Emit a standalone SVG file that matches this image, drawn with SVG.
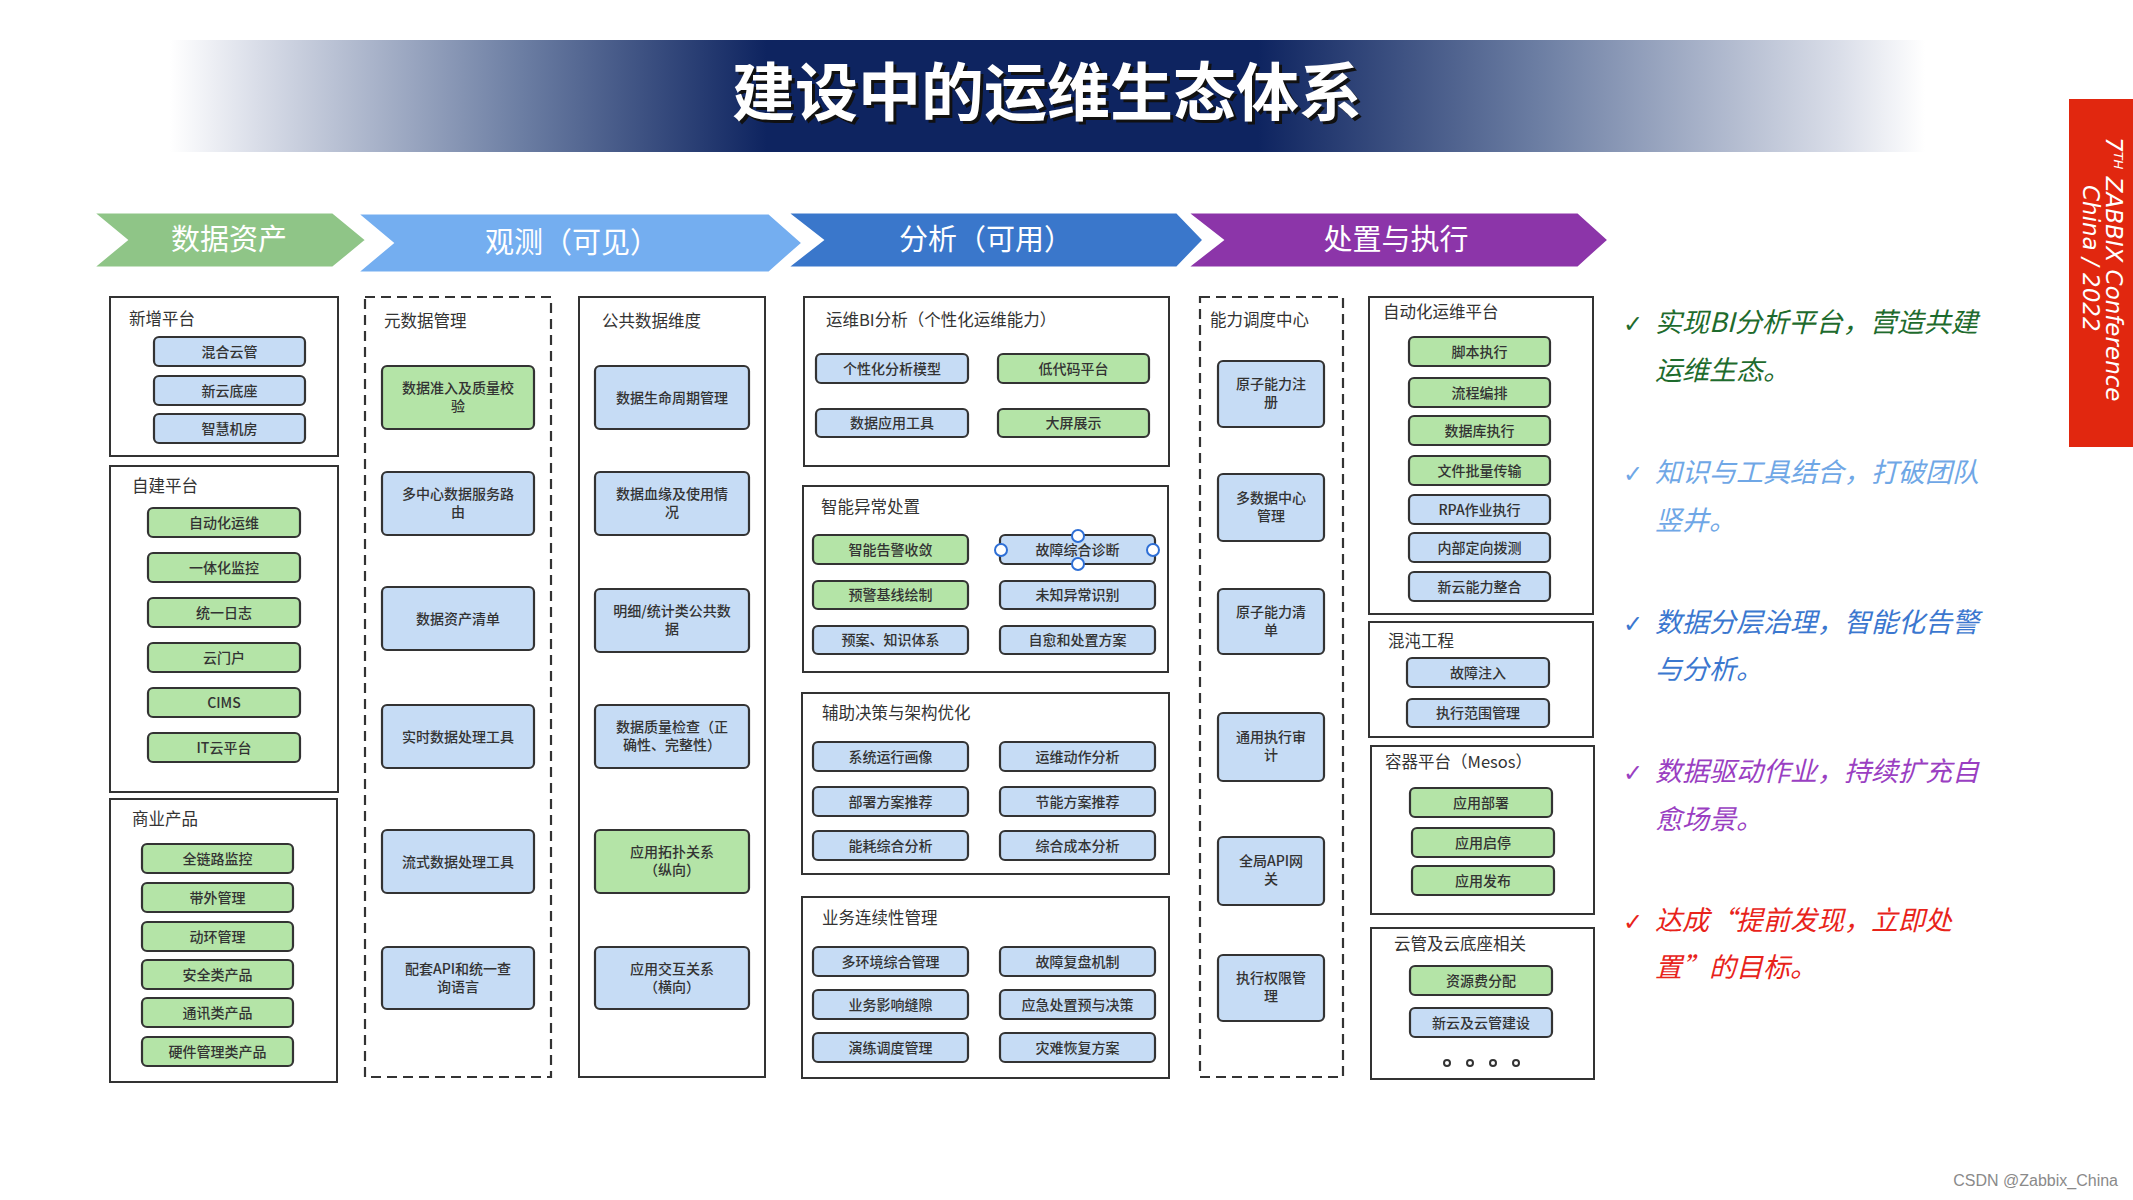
<svg xmlns="http://www.w3.org/2000/svg" width="2133" height="1200" viewBox="0 0 2133 1200">
<defs>
<linearGradient id="ban" x1="170" y1="0" x2="1925" y2="0" gradientUnits="userSpaceOnUse">
<stop offset="0" stop-color="#ffffff"/>
<stop offset="0.05" stop-color="#d9dde8"/>
<stop offset="0.2" stop-color="#6c7ea3"/>
<stop offset="0.34" stop-color="#0e2460"/>
<stop offset="0.62" stop-color="#0e2460"/>
<stop offset="0.78" stop-color="#6c7ea3"/>
<stop offset="0.95" stop-color="#d9dde8"/>
<stop offset="1" stop-color="#ffffff"/>
</linearGradient>
<style>
.frame{fill:none;stroke:#333;stroke-width:2}
.dash{fill:none;stroke:#333;stroke-width:2.2;stroke-dasharray:10 6}
.bb{fill:#c6dcf5;stroke:#333;stroke-width:2.2}
.gb{fill:#b4e4a7;stroke:#333;stroke-width:2.2}
.t{font-family:"Noto Sans CJK SC","Liberation Sans",sans-serif;font-size:14px;fill:#333;text-anchor:middle;font-weight:500}
.h{font-family:"Noto Sans CJK SC","Liberation Sans",sans-serif;font-size:16.5px;fill:#333}
.ar{stroke:#fff;stroke-width:3}
.at{font-family:"Noto Sans CJK SC",sans-serif;font-size:29px;fill:#fff;text-anchor:middle}
.rt{font-family:"Noto Sans CJK SC",sans-serif;font-size:27px;font-style:italic}
.ck{font-family:"DejaVu Sans",sans-serif;font-size:24px}
.hd{fill:#fff;stroke:#2e6fd6;stroke-width:2}
.tb{font-family:"DejaVu Sans",sans-serif;font-style:italic;font-size:23px;fill:#fff}
</style>
</defs>
<rect width="2133" height="1200" fill="#fff"/>

<!-- title banner -->
<g id="title">
<rect x="170" y="40" width="1755" height="112" fill="url(#ban)"/>
<text x="1050" y="118" font-family="Noto Sans CJK SC,sans-serif" font-size="63" font-weight="bold" fill="#111" text-anchor="middle">建设中的运维生态体系</text>
<text x="1047" y="115" font-family="Noto Sans CJK SC,sans-serif" font-size="63" font-weight="bold" fill="#fff" text-anchor="middle">建设中的运维生态体系</text>
</g>

<!-- phase arrows -->
<g id="phase-data">
<polygon class="ar" fill="#8fc587" points="92,212 333,212 367,240 333,268 92,268 126,240"/>
<text class="at" x="229" y="250">数据资产</text>
</g>
<g id="phase-observe">
<polygon class="ar" fill="#74aef0" points="356,213 769,213 803,243 769,273 356,273 392,243"/>
<text class="at" x="572" y="253">观测（可见）</text>
</g>
<g id="phase-analyse">
<polygon class="ar" fill="#3a77cb" points="786,212 1177,212 1204,240 1177,268 786,268 822,240"/>
<text class="at" x="986" y="250">分析（可用）</text>
</g>
<g id="phase-act">
<polygon class="ar" fill="#8c35a9" points="1186,212 1578,212 1609,240 1578,268 1186,268 1222,240"/>
<text class="at" x="1396" y="250">处置与执行</text>
</g>

<!-- column 1 -->
<g id="new-platform">
<rect class="frame" x="110" y="297" width="228" height="159"/>
<text class="h" x="129" y="325">新增平台</text>
<rect class="bb" x="154" y="337" width="151" height="29" rx="5"/><text class="t" x="229.5" y="356.5">混合云管</text>
<rect class="bb" x="154" y="376" width="151" height="29" rx="5"/><text class="t" x="229.5" y="395.5">新云底座</text>
<rect class="bb" x="154" y="414" width="151" height="29" rx="5"/><text class="t" x="229.5" y="433.5">智慧机房</text>
</g>
<g id="self-built">
<rect class="frame" x="110" y="466" width="228" height="326"/>
<text class="h" x="132" y="492">自建平台</text>
<rect class="gb" x="148" y="508" width="152" height="29" rx="5"/><text class="t" x="224" y="527.5">自动化运维</text>
<rect class="gb" x="148" y="553" width="152" height="29" rx="5"/><text class="t" x="224" y="572.5">一体化监控</text>
<rect class="gb" x="148" y="598" width="152" height="29" rx="5"/><text class="t" x="224" y="617.5">统一日志</text>
<rect class="gb" x="148" y="643" width="152" height="29" rx="5"/><text class="t" x="224" y="662.5">云门户</text>
<rect class="gb" x="148" y="688" width="152" height="29" rx="5"/><text class="t" x="224" y="707.5">CIMS</text>
<rect class="gb" x="148" y="733" width="152" height="29" rx="5"/><text class="t" x="224" y="752.5">IT云平台</text>
</g>
<g id="commercial">
<rect class="frame" x="110" y="799" width="227" height="283"/>
<text class="h" x="132" y="825">商业产品</text>
<rect class="gb" x="142" y="844" width="151" height="29" rx="5"/><text class="t" x="217.5" y="863.5">全链路监控</text>
<rect class="gb" x="142" y="883" width="151" height="29" rx="5"/><text class="t" x="217.5" y="902.5">带外管理</text>
<rect class="gb" x="142" y="922" width="151" height="29" rx="5"/><text class="t" x="217.5" y="941.5">动环管理</text>
<rect class="gb" x="142" y="960" width="151" height="29" rx="5"/><text class="t" x="217.5" y="979.5">安全类产品</text>
<rect class="gb" x="142" y="998" width="151" height="29" rx="5"/><text class="t" x="217.5" y="1017.5">通讯类产品</text>
<rect class="gb" x="142" y="1037" width="151" height="29" rx="5"/><text class="t" x="217.5" y="1056.5">硬件管理类产品</text>
</g>

<!-- column 2 -->
<g id="metadata">
<rect class="dash" x="365" y="297" width="186" height="780"/>
<text class="h" x="384" y="327">元数据管理</text>
<rect class="gb" x="382" y="366" width="152" height="63" rx="5"/><text class="t" x="458" y="393">数据准入及质量校</text><text class="t" x="458" y="411">验</text>
<rect class="bb" x="382" y="472" width="152" height="63" rx="5"/><text class="t" x="458" y="499">多中心数据服务路</text><text class="t" x="458" y="517">由</text>
<rect class="bb" x="382" y="587" width="152" height="63" rx="5"/><text class="t" x="458" y="623.5">数据资产清单</text>
<rect class="bb" x="382" y="705" width="152" height="63" rx="5"/><text class="t" x="458" y="741.5">实时数据处理工具</text>
<rect class="bb" x="382" y="830" width="152" height="63" rx="5"/><text class="t" x="458" y="866.5">流式数据处理工具</text>
<rect class="bb" x="382" y="947" width="152" height="62" rx="5"/><text class="t" x="458" y="974">配套API和统一查</text><text class="t" x="458" y="992">询语言</text>
</g>

<!-- column 3 -->
<g id="public-data">
<rect class="frame" x="579" y="297" width="186" height="780"/>
<text class="h" x="602" y="327">公共数据维度</text>
<rect class="bb" x="595" y="366" width="154" height="63" rx="5"/><text class="t" x="672" y="402.5">数据生命周期管理</text>
<rect class="bb" x="595" y="472" width="154" height="63" rx="5"/><text class="t" x="672" y="499">数据血缘及使用情</text><text class="t" x="672" y="517">况</text>
<rect class="bb" x="595" y="589" width="154" height="63" rx="5"/><text class="t" x="672" y="616">明细/统计类公共数</text><text class="t" x="672" y="634">据</text>
<rect class="bb" x="595" y="705" width="154" height="63" rx="5"/><text class="t" x="672" y="732">数据质量检查（正</text><text class="t" x="672" y="750">确性、完整性）</text>
<rect class="gb" x="595" y="830" width="154" height="63" rx="5"/><text class="t" x="672" y="857">应用拓扑关系</text><text class="t" x="672" y="875">（纵向）</text>
<rect class="bb" x="595" y="947" width="154" height="62" rx="5"/><text class="t" x="672" y="974">应用交互关系</text><text class="t" x="672" y="992">（横向）</text>
</g>

<!-- column 4 -->
<g id="bi-analysis">
<rect class="frame" x="804" y="297" width="365" height="169"/>
<text class="h" x="826" y="326">运维BI分析（个性化运维能力）</text>
<rect class="bb" x="816" y="354" width="152" height="29" rx="5"/><text class="t" x="892" y="373.5">个性化分析模型</text>
<rect class="gb" x="998" y="354" width="151" height="29" rx="5"/><text class="t" x="1073.5" y="373.5">低代码平台</text>
<rect class="bb" x="816" y="409" width="152" height="28" rx="5"/><text class="t" x="892" y="428">数据应用工具</text>
<rect class="gb" x="998" y="409" width="151" height="28" rx="5"/><text class="t" x="1073.5" y="428">大屏展示</text>
</g>
<g id="smart-anomaly">
<rect class="frame" x="803" y="486" width="365" height="186"/>
<text class="h" x="821" y="513">智能异常处置</text>
<rect class="gb" x="813" y="535" width="155" height="29" rx="5"/><text class="t" x="890.5" y="554.5">智能告警收敛</text>
<rect class="bb" x="1000" y="535" width="155" height="29" rx="5"/><text class="t" x="1077.5" y="554.5">故障综合诊断</text>
<circle class="hd" cx="1078" cy="536" r="6"/><circle class="hd" cx="1078" cy="564" r="6"/><circle class="hd" cx="1001" cy="550" r="6"/><circle class="hd" cx="1153" cy="550" r="6"/>
<rect class="gb" x="813" y="581" width="155" height="28" rx="5"/><text class="t" x="890.5" y="600">预警基线绘制</text>
<rect class="bb" x="1000" y="581" width="155" height="28" rx="5"/><text class="t" x="1077.5" y="600">未知异常识别</text>
<rect class="bb" x="813" y="626" width="155" height="28" rx="5"/><text class="t" x="890.5" y="645">预案、知识体系</text>
<rect class="bb" x="1000" y="626" width="155" height="28" rx="5"/><text class="t" x="1077.5" y="645">自愈和处置方案</text>
</g>
<g id="decision">
<rect class="frame" x="802" y="693" width="367" height="181"/>
<text class="h" x="822" y="719">辅助决策与架构优化</text>
<rect class="bb" x="813" y="742" width="155" height="29" rx="5"/><text class="t" x="890.5" y="761.5">系统运行画像</text>
<rect class="bb" x="1000" y="742" width="155" height="29" rx="5"/><text class="t" x="1077.5" y="761.5">运维动作分析</text>
<rect class="bb" x="813" y="787" width="155" height="29" rx="5"/><text class="t" x="890.5" y="806.5">部署方案推荐</text>
<rect class="bb" x="1000" y="787" width="155" height="29" rx="5"/><text class="t" x="1077.5" y="806.5">节能方案推荐</text>
<rect class="bb" x="813" y="831" width="155" height="29" rx="5"/><text class="t" x="890.5" y="850.5">能耗综合分析</text>
<rect class="bb" x="1000" y="831" width="155" height="29" rx="5"/><text class="t" x="1077.5" y="850.5">综合成本分析</text>
</g>
<g id="continuity">
<rect class="frame" x="802" y="897" width="367" height="181"/>
<text class="h" x="822" y="924">业务连续性管理</text>
<rect class="bb" x="813" y="947" width="155" height="29" rx="5"/><text class="t" x="890.5" y="966.5">多环境综合管理</text>
<rect class="bb" x="1000" y="947" width="155" height="29" rx="5"/><text class="t" x="1077.5" y="966.5">故障复盘机制</text>
<rect class="bb" x="813" y="990" width="155" height="29" rx="5"/><text class="t" x="890.5" y="1009.5">业务影响缝隙</text>
<rect class="bb" x="1000" y="990" width="155" height="29" rx="5"/><text class="t" x="1077.5" y="1009.5">应急处置预与决策</text>
<rect class="bb" x="813" y="1033" width="155" height="29" rx="5"/><text class="t" x="890.5" y="1052.5">演练调度管理</text>
<rect class="bb" x="1000" y="1033" width="155" height="29" rx="5"/><text class="t" x="1077.5" y="1052.5">灾难恢复方案</text>
</g>

<!-- column 5 -->
<g id="dispatch">
<rect class="dash" x="1200" y="297" width="143" height="780"/>
<text class="h" x="1210" y="326">能力调度中心</text>
<rect class="bb" x="1218" y="361" width="106" height="66" rx="5"/><text class="t" x="1271" y="389">原子能力注</text><text class="t" x="1271" y="407">册</text>
<rect class="bb" x="1218" y="474" width="106" height="67" rx="5"/><text class="t" x="1271" y="503">多数据中心</text><text class="t" x="1271" y="521">管理</text>
<rect class="bb" x="1218" y="589" width="106" height="65" rx="5"/><text class="t" x="1271" y="617">原子能力清</text><text class="t" x="1271" y="635">单</text>
<rect class="bb" x="1218" y="713" width="106" height="68" rx="5"/><text class="t" x="1271" y="742">通用执行审</text><text class="t" x="1271" y="760">计</text>
<rect class="bb" x="1218" y="837" width="106" height="68" rx="5"/><text class="t" x="1271" y="866">全局API网</text><text class="t" x="1271" y="884">关</text>
<rect class="bb" x="1218" y="955" width="106" height="66" rx="5"/><text class="t" x="1271" y="983">执行权限管</text><text class="t" x="1271" y="1001">理</text>
</g>

<!-- column 6 -->
<g id="auto-ops">
<rect class="frame" x="1369" y="297" width="224" height="317"/>
<text class="h" x="1383" y="318">自动化运维平台</text>
<rect class="gb" x="1409" y="337" width="141" height="29" rx="5"/><text class="t" x="1479.5" y="356.5">脚本执行</text>
<rect class="gb" x="1409" y="378" width="141" height="29" rx="5"/><text class="t" x="1479.5" y="397.5">流程编排</text>
<rect class="gb" x="1409" y="416" width="141" height="29" rx="5"/><text class="t" x="1479.5" y="435.5">数据库执行</text>
<rect class="gb" x="1409" y="456" width="141" height="29" rx="5"/><text class="t" x="1479.5" y="475.5">文件批量传输</text>
<rect class="bb" x="1409" y="495" width="141" height="29" rx="5"/><text class="t" x="1479.5" y="514.5">RPA作业执行</text>
<rect class="bb" x="1409" y="533" width="141" height="29" rx="5"/><text class="t" x="1479.5" y="552.5">内部定向拨测</text>
<rect class="bb" x="1409" y="572" width="141" height="29" rx="5"/><text class="t" x="1479.5" y="591.5">新云能力整合</text>
</g>
<g id="chaos">
<rect class="frame" x="1369" y="622" width="224" height="115"/>
<text class="h" x="1388" y="647">混沌工程</text>
<rect class="bb" x="1407" y="658" width="142" height="29" rx="5"/><text class="t" x="1478" y="677.5">故障注入</text>
<rect class="bb" x="1407" y="699" width="142" height="28" rx="5"/><text class="t" x="1478" y="718">执行范围管理</text>
</g>
<g id="container">
<rect class="frame" x="1371" y="746" width="223" height="168"/>
<text class="h" x="1385" y="768">容器平台（Mesos）</text>
<rect class="gb" x="1410" y="788" width="142" height="29" rx="5"/><text class="t" x="1481" y="807.5">应用部署</text>
<rect class="gb" x="1412" y="828" width="142" height="29" rx="5"/><text class="t" x="1483" y="847.5">应用启停</text>
<rect class="gb" x="1412" y="866" width="142" height="29" rx="5"/><text class="t" x="1483" y="885.5">应用发布</text>
</g>
<g id="cloud">
<rect class="frame" x="1371" y="928" width="223" height="151"/>
<text class="h" x="1394" y="950">云管及云底座相关</text>
<rect class="gb" x="1410" y="966" width="142" height="29" rx="5"/><text class="t" x="1481" y="985.5">资源费分配</text>
<rect class="bb" x="1410" y="1008" width="142" height="29" rx="5"/><text class="t" x="1481" y="1027.5">新云及云管建设</text>
<g fill="none" stroke="#333" stroke-width="2"><circle cx="1447" cy="1063" r="3"/><circle cx="1470" cy="1063" r="3"/><circle cx="1493" cy="1063" r="3"/><circle cx="1516" cy="1063" r="3"/></g>
</g>

<g id="connectors"></g>

<!-- right side goals -->
<g id="goals">
<text class="ck" x="1623" y="332" fill="#1e6b2d">✓</text>
<text class="rt" x="1655" y="332" fill="#1e6b2d">实现BI分析平台，营造共建</text>
<text class="rt" x="1655" y="380" fill="#1e6b2d">运维生态。</text>
<text class="ck" x="1623" y="482" fill="#6fa7e6">✓</text>
<text class="rt" x="1655" y="482" fill="#6fa7e6">知识与工具结合，打破团队</text>
<text class="rt" x="1655" y="530" fill="#6fa7e6">竖井。</text>
<text class="ck" x="1623" y="632" fill="#3b77cf">✓</text>
<text class="rt" x="1655" y="632" fill="#3b77cf">数据分层治理，智能化告警</text>
<text class="rt" x="1655" y="679" fill="#3b77cf">与分析。</text>
<text class="ck" x="1623" y="781" fill="#9a3fc2">✓</text>
<text class="rt" x="1655" y="781" fill="#9a3fc2">数据驱动作业，持续扩充自</text>
<text class="rt" x="1655" y="829" fill="#9a3fc2">愈场景。</text>
<text class="ck" x="1623" y="930" fill="#e8231a">✓</text>
<text class="rt" x="1655" y="930" fill="#e8231a">达成“提前发现，立即处</text>
<text class="rt" x="1655" y="977" fill="#e8231a">置”的目标。</text>
</g>

<!-- red tab -->
<g id="tab">
<rect x="2069" y="99" width="64" height="348" fill="#e1270f"/>
<text class="tb" transform="translate(2106,137) rotate(90)">7<tspan font-size="13" dy="-8">TH</tspan><tspan dy="8"> ZABBIX Conference</tspan></text>
<text class="tb" transform="translate(2083,185) rotate(90)">China / 2022</text>
</g>

<text x="2118" y="1186" font-family="Liberation Sans,sans-serif" font-size="16" fill="#8a8a8a" text-anchor="end">CSDN @Zabbix_China</text>
</svg>
